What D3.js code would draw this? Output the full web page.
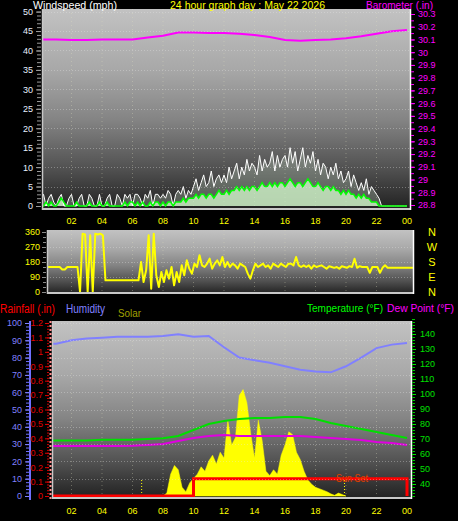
<!DOCTYPE html>
<html>
<head>
<meta charset="utf-8">
<script src="https://cdn.jsdelivr.net/npm/d3@7"></script>
<style>
  body { margin: 0; background: #000; }
  svg { display: block; }
  text { font-family: "Liberation Sans", Arial, sans-serif; }
</style>
</head>
<body>
<div id="chart"></div>
<script>
// 24 hour weather graph, May 22 2026

// x axis labels (every 2 hours)
const xTickHours = [2, 4, 6, 8, 10, 12, 14, 16, 18, 20, 22, 24];
const xTickLabels = ["02", "04", "06", "08", "10", "12", "14", "16", "18", "20", "22", "00"];

// wind, one value every 10 minutes (mph)
const windGust = [
  2, 3, 0, 2, 3, 1,   0, 2, 3, 0, 0, 2,   3, 0, 0, 2, 3, 0,   0, 3, 2, 0, 0, 3,
  0, 0, 2, 3, 0, 0,   3, 2, 0, 3, 2, 3,   0, 3, 3, 2, 0, 3,   2, 4, 0, 3, 3, 2,
  3, 2, 4, 3, 0, 3,   4, 3, 5, 2, 4, 3,   5, 7, 4, 6, 8, 5,   6, 9, 5, 7, 8, 6,
  8, 6, 10, 7, 9, 11, 7, 10, 8, 12, 9, 11, 10, 8, 13, 9, 12, 10, 11, 14, 9, 13, 10, 12,
  13, 10, 15, 11, 14, 9, 12, 15, 10, 13, 11, 14, 9, 12, 8, 11, 10, 7, 10, 8, 11, 7, 9, 6,
  7, 9, 5, 8, 6, 4,   6, 4, 7, 3, 5, 4,   3, 2, 0, 0, 0, 0,   0, 0, 0, 0, 0, 0,
  0
];
const windAvg = [
  0, 0, 1, 0, 1, 0,   0, 1, 2, 1, 0, 0,   0, 0, 1, 0, 0, 0,   0, 1, 0, 0, 0, 1,
  0, 0, 1, 0, 0, 0,   0, 0, 0, 1, 0, 1,   1, 0, 1, 0, 1, 0,   0, 1, 0, 1, 1, 0,
  1, 0, 1, 1, 0, 1,   1, 1, 2, 1, 2, 2,   2, 3, 2, 3, 3, 2,   3, 3, 2, 3, 4, 3,
  3, 4, 3, 4, 4, 5,   4, 5, 4, 5, 4, 5,   5, 4, 5, 6, 5, 5,   6, 5, 6, 5, 6, 6,
  5, 6, 7, 6, 5, 6,   6, 5, 6, 7, 6, 5,   5, 6, 5, 4, 5, 5,   4, 5, 4, 4, 3, 4,
  3, 4, 3, 3, 2, 3,   2, 3, 2, 2, 1, 1,   1, 0, 0, 0, 0, 0,   0, 0, 0, 0, 0, 0,
  0
];

// barometer, hourly (in)
const baro = [30.10, 30.10, 30.095, 30.095, 30.10, 30.10, 30.10, 30.115, 30.13, 30.155,
  30.155, 30.15, 30.15, 30.145, 30.135, 30.12, 30.095, 30.09, 30.095, 30.10,
  30.11, 30.125, 30.145, 30.165, 30.175];

// wind direction, every 10 minutes (degrees)
const windDir = [
  150, 150, 150, 150, 150, 150,  135, 135, 150, 150, 150, 150,  150, 0, 350, 345, 0, 340,
  0, 350, 345, 350, 340, 70,     70, 70, 70, 70, 70, 70,        70, 70, 70, 70, 70, 70,
  70, 180, 60, 130, 340, 20,     350, 100, 30, 120, 60, 130,    80, 150, 40, 120, 60, 160,
  100, 190, 140, 110, 170, 150,  220, 160, 150, 170, 200, 140,  170, 190, 160, 210, 150, 180,
  150, 170, 160, 140, 170, 160,  150, 110, 80, 130, 170, 150,   160, 170, 150, 160, 140, 170,
  160, 150, 170, 160, 150, 170,  170, 160, 210, 160, 150, 160,  150, 160, 140, 160, 150, 155,
  160, 150, 140, 155, 150, 145,  150, 140, 155, 150, 145, 155,  150, 200, 145, 155, 150, 150,
  150, 115, 150, 150, 150, 115,  145, 160, 145, 145, 145, 145,  145, 145, 145, 145, 145, 145,
  145
];

// hourly values, bottom panel
const humidity = [88, 88, 90, 91, 91.5, 92, 92, 92, 92.5, 93.5, 92, 92.5, 86, 80, 78.5,
  77, 75, 73, 72, 71.5, 75, 80, 85.5, 87.5, 88.5];
const temperature = [69, 69, 69, 69, 69.5, 69.5, 69.5, 70, 70.5, 72, 76, 80, 82, 83.3,
  84, 84, 84.7, 84.7, 83.3, 80.7, 78.7, 76.7, 74.7, 72.7, 70.7];
const dewPoint = [65.3, 65.3, 65.3, 65.3, 65.3, 65.3, 65.5, 66, 66.7, 68.7, 70.7, 72,
  72.7, 72, 72, 72, 72, 72, 71.3, 70.7, 70, 69.3, 68, 67.3, 66];
const rainfall = [0, 0, 0, 0, 0, 0, 0, 0, 0, 0, 0.12, 0.12, 0.12, 0.12, 0.12, 0.12,
  0.12, 0.12, 0.12, 0.12, 0.12, 0.12, 0.12, 0.12, 0];

// solar, every 15 minutes from 08:00 to 20:00 (W/m2)
const solarStart = 8;
const solar = [0, 20, 150, 210, 180, 60, 30, 90, 120, 150, 200, 170, 240, 280, 220, 300,
  260, 520, 350, 400, 690, 730, 640, 430, 260, 520, 380, 170, 140, 180, 150, 280,
  350, 440, 420, 300, 250, 170, 110, 80, 60, 50, 40, 30, 15, 5, 20, 10, 0];

const sunrise = 6.6;
const sunset = 19.9;

// tick values
const windTicks = d3.range(0, 51, 5);
const baroTicks = d3.range(288, 304).map(v => v / 10);
const dirTicks = [0, 90, 180, 270, 360];
const dirLetters = ["N", "E", "S", "W", "N"];
const humTicks = d3.range(0, 101, 10);
const rainTicks = d3.range(0, 13).map(v => v / 10);
const tempTicks = d3.range(40, 141, 10);

// ---------------------------------------------------------------
const width = 458;
const height = 521;
const tickFont = 9;

const svg = d3.select("#chart")
  .append("svg")
  .attr("width", width)
  .attr("height", height);

svg.append("rect").attr("width", width).attr("height", height).attr("fill", "#000");

const defs = svg.append("defs");

// panel background gradient, light at the top, dark at the bottom
const grad = defs.append("linearGradient")
  .attr("id", "bg")
  .attr("x1", 0).attr("y1", 0).attr("x2", 0).attr("y2", 1);
[[0, "#c2c2c2"], [0.3, "#a8a8a8"], [0.55, "#848484"], [0.8, "#505050"], [1, "#202020"]]
  .forEach(s => grad.append("stop").attr("offset", s[0]).attr("stop-color", s[1]));

const x = d3.scaleLinear().domain([0, 24]).range([41, 407]);

// panel boxes
const topBox = { x0: 42, y0: 9, x1: 411, y1: 210 };
const midBox = { x0: 47, y0: 230, x1: 414, y1: 294 };
const botBox = { x0: 52, y0: 321, x1: 412, y1: 499 };

function drawPanel(b, id) {
  defs.append("clipPath").attr("id", id)
    .append("rect")
    .attr("x", b.x0).attr("y", b.y0)
    .attr("width", b.x1 - b.x0).attr("height", b.y1 - b.y0);
  svg.append("rect")
    .attr("x", b.x0).attr("y", b.y0)
    .attr("width", b.x1 - b.x0).attr("height", b.y1 - b.y0)
    .attr("fill", "url(#bg)");
  // vertical dotted grid
  svg.append("g").selectAll("line")
    .data(xTickHours.slice(0, -1))
    .enter().append("line")
    .attr("x1", d => x(d)).attr("x2", d => x(d))
    .attr("y1", b.y0).attr("y2", b.y1)
    .attr("stroke", "#e0e0c0")
    .attr("stroke-opacity", 0.35)
    .attr("stroke-dasharray", "1,3");
  return svg.append("g").attr("clip-path", `url(#${id})`);
}

function hGrid(b, scale, ticks) {
  svg.append("g").selectAll("line")
    .data(ticks)
    .enter().append("line")
    .attr("x1", b.x0).attr("x2", b.x1)
    .attr("y1", d => Math.round(scale(d)) + 0.5)
    .attr("y2", d => Math.round(scale(d)) + 0.5)
    .attr("stroke", "#e8e8e8")
    .attr("stroke-opacity", 0.35)
    .attr("stroke-dasharray", "1,2");
}

function borders(b) {
  // light left / bottom edges and a white right edge
  svg.append("line").attr("x1", b.x0 + 0.5).attr("x2", b.x0 + 0.5)
    .attr("y1", b.y0).attr("y2", b.y1).attr("stroke", "#c8c8c8").attr("stroke-width", 1.5);
  svg.append("line").attr("x1", b.x0).attr("x2", b.x1)
    .attr("y1", b.y1 - 1).attr("y2", b.y1 - 1).attr("stroke", "#c8c8c8").attr("stroke-width", 2);
  svg.append("line").attr("x1", b.x1 - 0.5).attr("x2", b.x1 - 0.5)
    .attr("y1", b.y0).attr("y2", b.y1).attr("stroke", "#ffffff").attr("stroke-width", 1.5);
}

function styleAxis(g, color) {
  g.select(".domain").remove();
  g.selectAll(".tick line").attr("stroke", color);
  g.selectAll(".tick text")
    .attr("fill", color)
    .style("font-size", tickFont + "px")
    .style("font-family", "'Liberation Sans', Arial, sans-serif");
}

// header text squeezed to the width it has in the original
function label(txt, x0, y0, w, color, size) {
  svg.append("text")
    .attr("x", x0).attr("y", y0)
    .attr("fill", color)
    .attr("textLength", w)
    .attr("lengthAdjust", "spacingAndGlyphs")
    .style("font-size", size + "px")
    .text(txt);
}

const fmtNum = d => String(+d.toFixed(1));

// ================= TOP PANEL: wind speed + barometer =================
const yWind = d3.scaleLinear().domain([0, 50]).range([206, 11.6]);
const yBaro = d3.scaleLinear().domain([28.8, 30.3]).range([205, 14]);

const topG = drawPanel(topBox, "clipTop");
hGrid(topBox, yWind, windTicks.slice(1));

const windHour = (d, i) => i / 6;

topG.append("path")
  .datum(windGust)
  .attr("fill", "#d8f0d8")
  .attr("fill-opacity", 0.25)
  .attr("d", d3.area().x((d, i) => x(windHour(d, i))).y0(yWind(0)).y1(d => yWind(d)));

topG.append("path")
  .datum(windAvg)
  .attr("fill", "#d0f4c8")
  .attr("fill-opacity", 0.8)
  .attr("d", d3.area().x((d, i) => x(windHour(d, i))).y0(yWind(0)).y1(d => yWind(d)));

topG.append("path")
  .datum(windGust)
  .attr("fill", "none")
  .attr("stroke", "#ffffff")
  .attr("stroke-width", 1)
  .attr("d", d3.line().x((d, i) => x(windHour(d, i))).y(d => yWind(d)));

topG.append("path")
  .datum(windAvg)
  .attr("fill", "none")
  .attr("stroke", "#00ff00")
  .attr("stroke-width", 1.5)
  .attr("d", d3.line().x((d, i) => x(windHour(d, i))).y(d => yWind(d)));

topG.append("path")
  .datum(baro)
  .attr("fill", "none")
  .attr("stroke", "#ff00ff")
  .attr("stroke-width", 2)
  .attr("d", d3.line().x((d, i) => x(i)).y(d => yBaro(d)));

borders(topBox);

// left axis (wind)
svg.append("g").attr("transform", "translate(41,0)")
  .call(d3.axisLeft(yWind).tickValues(d3.range(0, 51, 1)).tickSize(4).tickFormat(""))
  .call(g => styleAxis(g, "#9a9a9a"));
svg.append("g").attr("transform", "translate(41,0)")
  .call(d3.axisLeft(yWind).tickValues(windTicks).tickSize(5).tickPadding(3))
  .call(g => styleAxis(g, "#9a9a9a"))
  .call(g => g.selectAll(".tick text").attr("fill", "#e8f0ff"));

// right axis (barometer)
svg.append("g").attr("transform", `translate(${topBox.x1},0)`)
  .call(d3.axisRight(yBaro).tickValues(d3.range(576, 607).map(v => v / 20)).tickSize(3).tickFormat(""))
  .call(g => styleAxis(g, "#ff00ff"));
svg.append("g").attr("transform", `translate(${topBox.x1},0)`)
  .call(d3.axisRight(yBaro).tickValues(baroTicks).tickSize(4).tickPadding(3).tickFormat(fmtNum))
  .call(g => styleAxis(g, "#ff00ff"));

// x labels
svg.append("g").selectAll("text")
  .data(xTickHours)
  .enter().append("text")
  .attr("x", d => x(d))
  .attr("y", 224)
  .attr("text-anchor", "middle")
  .attr("fill", "#ffff00")
  .style("font-size", tickFont + "px")
  .text((d, i) => xTickLabels[i]);

// titles (the original has them touching the top edge)
label("Windspeed (mph)", 33, 8.5, 84, "#ffffff", 11);
label("24 hour graph day : May 22 2026", 170, 8.5, 155, "#ffff00", 11);
label("Barometer (.in)", 366, 8.5, 67, "#ff00ff", 11);

// ================= MIDDLE PANEL: wind direction =================
const yDir = d3.scaleLinear().domain([0, 360]).range([292, 232]);
const midG = drawPanel(midBox, "clipMid");
hGrid(midBox, yDir, [90, 180, 270]);

midG.append("path")
  .datum(windDir)
  .attr("fill", "none")
  .attr("stroke", "#ffff00")
  .attr("stroke-width", 2)
  .attr("stroke-linejoin", "round")
  .attr("d", d3.line().x((d, i) => x(i / 6) + 6).y(d => yDir(d)));

borders(midBox);

svg.append("g").attr("transform", "translate(46,0)")
  .call(d3.axisLeft(yDir).tickValues(d3.range(0, 361, 30)).tickSize(3).tickFormat(""))
  .call(g => styleAxis(g, "#8a8a8a"));
svg.append("g").attr("transform", "translate(46,0)")
  .call(d3.axisLeft(yDir).tickValues(dirTicks).tickSize(4).tickPadding(2))
  .call(g => styleAxis(g, "#8a8a8a"))
  .call(g => g.selectAll(".tick text").attr("fill", "#ffff00"));

svg.append("g").selectAll("text")
  .data(dirTicks)
  .enter().append("text")
  .attr("x", 432)
  .attr("y", d => yDir(d) + 4)
  .attr("text-anchor", "middle")
  .attr("fill", "#ffff00")
  .style("font-size", "11px")
  .text((d, i) => dirLetters[i]);

// ================= BOTTOM PANEL: temp, dew, humidity, rain, solar =================
const yHum = d3.scaleLinear().domain([0, 100]).range([496, 323]);
const yRain = d3.scaleLinear().domain([0, 1.2]).range([496, 323]);
const yTemp = d3.scaleLinear().domain([30, 150]).range([499, 319]);
const ySolar = d3.scaleLinear().domain([0, 1200]).range([496, 321]);

const botG = drawPanel(botBox, "clipBot");
hGrid(botBox, yHum, humTicks.slice(1));

botG.append("path")
  .datum(solar)
  .attr("fill", "#ffff00")
  .attr("stroke", "#ffff00")
  .attr("stroke-width", 0.5)
  .attr("d", d3.area()
    .x((d, i) => x(solarStart + i / 4))
    .y0(ySolar(0))
    .y1(d => ySolar(d)));

// sunrise / sunset markers
[sunrise, sunset].forEach(h => {
  botG.append("line")
    .attr("x1", x(h)).attr("x2", x(h))
    .attr("y1", 480).attr("y2", 497)
    .attr("stroke", "#ffff00")
    .attr("stroke-dasharray", "1,2");
});

botG.append("path")
  .datum(humidity)
  .attr("fill", "none")
  .attr("stroke", "#8080ff")
  .attr("stroke-width", 2)
  .attr("d", d3.line().x((d, i) => x(i)).y(d => yHum(d)));

botG.append("path")
  .datum(temperature)
  .attr("fill", "none")
  .attr("stroke", "#00e000")
  .attr("stroke-width", 2)
  .attr("d", d3.line().x((d, i) => x(i)).y(d => yTemp(d)));

botG.append("path")
  .datum(dewPoint)
  .attr("fill", "none")
  .attr("stroke", "#e000e0")
  .attr("stroke-width", 2)
  .attr("d", d3.line().x((d, i) => x(i)).y(d => yTemp(d)));

botG.append("path")
  .datum(rainfall)
  .attr("fill", "none")
  .attr("stroke", "#ff0000")
  .attr("stroke-width", 3)
  .attr("d", d3.line().curve(d3.curveStepAfter).x((d, i) => x(i)).y(d => yRain(d)));

label("Sun Set", 336, 482, 32, "#e04000", 10);

borders(botBox);

// humidity axis (blue)
svg.append("line").attr("x1", 30).attr("x2", 30).attr("y1", 321).attr("y2", 500)
  .attr("stroke", "#7070ff").attr("stroke-width", 2);
svg.append("g").attr("transform", "translate(29,0)")
  .call(d3.axisLeft(yHum).tickValues(d3.range(0, 101, 2)).tickSize(3).tickFormat(""))
  .call(g => styleAxis(g, "#7070ff"));
svg.append("g").attr("transform", "translate(29,0)")
  .call(d3.axisLeft(yHum).tickValues(humTicks).tickSize(4).tickPadding(3))
  .call(g => styleAxis(g, "#8080ff"));

// rainfall axis (red)
svg.append("line").attr("x1", 50.5).attr("x2", 50.5).attr("y1", 321).attr("y2", 500)
  .attr("stroke", "#ff9090").attr("stroke-width", 2).attr("stroke-dasharray", "2,2");
svg.append("g").attr("transform", "translate(49,0)")
  .call(d3.axisLeft(yRain).tickValues(d3.range(0, 61).map(v => v / 50)).tickSize(2).tickFormat(""))
  .call(g => styleAxis(g, "#d00000"));
svg.append("g").attr("transform", "translate(49,0)")
  .call(d3.axisLeft(yRain).tickValues(rainTicks).tickSize(4).tickPadding(2).tickFormat(fmtNum))
  .call(g => styleAxis(g, "#e00000"));

// temperature axis (green)
svg.append("g").attr("transform", `translate(${botBox.x1},0)`)
  .call(d3.axisRight(yTemp).tickValues(d3.range(32, 151, 2)).tickSize(3).tickFormat(""))
  .call(g => styleAxis(g, "#00c000"));
svg.append("g").attr("transform", `translate(${botBox.x1},0)`)
  .call(d3.axisRight(yTemp).tickValues(tempTicks).tickSize(4).tickPadding(4))
  .call(g => styleAxis(g, "#00e000"));

svg.append("g").selectAll("text")
  .data(xTickHours)
  .enter().append("text")
  .attr("x", d => x(d))
  .attr("y", 514)
  .attr("text-anchor", "middle")
  .attr("fill", "#ffff00")
  .style("font-size", tickFont + "px")
  .text((d, i) => xTickLabels[i]);

// legend titles
label("Rainfall (.in)", 0, 313, 55, "#ff0000", 12);
label("Humidity", 66, 313, 39, "#8080ff", 12);
label("Solar", 118, 317, 23, "#a0a000", 11);
label("Temperature (°F)", 307, 312, 76, "#00ff00", 11);
label("Dew Point (°F)", 387, 312, 67, "#ff00ff", 11);
</script>
</body>
</html>
